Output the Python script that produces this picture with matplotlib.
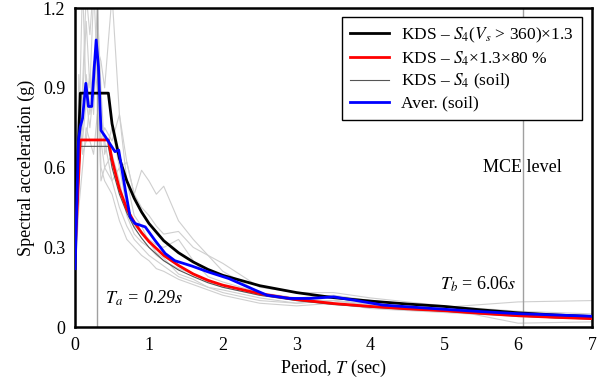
import numpy as np
from matplotlib import pyplot as plt

plt.rcParams['font.family'] = ['Liberation Serif', 'DejaVu Serif']
plt.rcParams['mathtext.fontset'] = 'stix'

# design spectra (KDS)
T_kds = [0, 0.07, 0.45, 0.5, 0.6, 0.7, 0.8, 0.9, 1.0, 1.2, 1.4, 1.6, 1.8, 2.0,
         2.5, 3.0, 3.5, 4.0, 4.5, 5.0, 5.5, 6.0, 6.5, 7.0]
sa_kds_13 = [0.35, 0.88, 0.88, 0.765, 0.635, 0.55, 0.485, 0.433, 0.39, 0.325, 0.28, 0.245,
             0.217, 0.195, 0.156, 0.13, 0.111, 0.098, 0.087, 0.078, 0.065, 0.054, 0.046, 0.04]
sa_kds_80 = [0.28, 0.704, 0.704, 0.63, 0.52, 0.445, 0.395, 0.355, 0.322, 0.27, 0.232, 0.2,
             0.176, 0.158, 0.126, 0.104, 0.089, 0.078, 0.069, 0.062, 0.052, 0.043, 0.037, 0.032]
sa_kds_soil = [0.27, 0.68, 0.68, 0.6, 0.5, 0.43, 0.375, 0.335, 0.3, 0.25, 0.215, 0.19,
               0.167, 0.15, 0.12, 0.1, 0.085, 0.075, 0.067, 0.06, 0.05, 0.042, 0.035, 0.031]

# average of the soil records
T_avg = [0, 0.045, 0.07, 0.10, 0.145, 0.18, 0.225, 0.26, 0.285, 0.316, 0.35, 0.41, 0.47,
         0.54, 0.59, 0.63, 0.68, 0.745, 0.81, 0.95, 1.08, 1.22, 1.35, 1.58, 1.8, 2.08,
         2.44, 2.6, 2.91, 3.18, 3.5, 3.81, 4.17, 4.85, 5.53, 5.98, 7.0]
sa_avg = [0.22, 0.70, 0.754, 0.785, 0.917, 0.83, 0.83, 0.98, 1.08, 0.98, 0.74, 0.716, 0.69,
          0.66, 0.666, 0.60, 0.515, 0.415, 0.39, 0.377, 0.327, 0.277, 0.25, 0.23, 0.208, 0.183,
          0.139, 0.12, 0.108, 0.108, 0.114, 0.10, 0.083, 0.07, 0.058, 0.051, 0.041]

# individual records (light grey)
T_rec = [0, 0.05, 0.1, 0.15, 0.2, 0.25, 0.3, 0.35, 0.4, 0.5, 0.6, 0.7, 0.8, 0.9, 1.0,
         1.1, 1.2, 1.4, 1.6, 1.8, 2.0, 2.5, 3.0, 3.5, 4.0, 5.0, 6.0, 7.0]
rec1 = [0.22, 0.55, 0.9, 1.25, 1.1, 1.3, 0.95, 0.8, 0.7, 0.55, 0.45, 0.38, 0.33, 0.3, 0.27,
        0.25, 0.23, 0.19, 0.17, 0.15, 0.14, 0.11, 0.09, 0.1, 0.09, 0.065, 0.05, 0.04]
rec2 = [0.2, 0.7, 1.3, 0.85, 0.75, 0.9, 1.2, 0.9, 0.65, 0.75, 0.6, 0.45, 0.38, 0.36, 0.33,
        0.31, 0.3, 0.33, 0.25, 0.19, 0.17, 0.13, 0.11, 0.12, 0.1, 0.075, 0.095, 0.1]
rec3 = [0.19, 0.45, 0.6, 0.75, 0.7, 0.65, 0.8, 0.7, 0.6, 0.55, 0.6, 0.62, 0.5, 0.59, 0.55,
        0.5, 0.53, 0.4, 0.33, 0.27, 0.21, 0.13, 0.1, 0.1, 0.085, 0.06, 0.045, 0.035]
rec4 = [0.21, 0.9, 0.85, 1.15, 0.9, 1.25, 1.3, 0.7, 0.75, 0.7, 0.8, 0.55, 0.42, 0.38, 0.32,
        0.28, 0.26, 0.2, 0.18, 0.15, 0.13, 0.1, 0.09, 0.1, 0.08, 0.06, 0.04, 0.035]
rec5 = [0.23, 0.8, 0.7, 0.85, 0.95, 0.8, 1.1, 0.6, 0.55, 0.5, 0.4, 0.33, 0.3, 0.27, 0.25,
        0.22, 0.21, 0.18, 0.16, 0.14, 0.12, 0.09, 0.08, 0.09, 0.07, 0.055, 0.04, 0.035]
rec6 = [0.2, 0.6, 0.75, 0.95, 0.8, 0.9, 1.05, 1.0, 0.9, 1.25, 0.8, 0.62, 0.5, 0.45, 0.42,
        0.38, 0.35, 0.36, 0.3, 0.27, 0.24, 0.15, 0.13, 0.13, 0.11, 0.08, 0.06, 0.05]
rec7 = [0.2, 0.95, 0.65, 0.7, 0.85, 1.0, 0.9, 0.55, 0.6, 0.65, 0.55, 0.42, 0.35, 0.32, 0.3,
        0.27, 0.25, 0.22, 0.2, 0.17, 0.15, 0.12, 0.1, 0.11, 0.1, 0.07, 0.015, 0.02]
records = [rec1, rec2, rec3, rec4, rec5, rec6, rec7]

Ta = 0.29
Tb = 6.06

fig = plt.figure(figsize=(6.01, 3.84), dpi=100)
ax = fig.add_axes([0.125, 0.148, 0.86, 0.831])

for r in records:
    ax.plot(T_rec, r, color='#cfcfcf', lw=0.8, zorder=1)

ax.axvline(Ta, color='#a0a0a0', lw=1, zorder=1.5)
ax.axvline(Tb, color='#a0a0a0', lw=1, zorder=1.5)

ax.plot(T_kds, sa_kds_13, color='black', lw=2, zorder=3,
        label=r'KDS – $S_4$($V_s$ > 360)×1.3')
ax.plot(T_kds, sa_kds_80, color='red', lw=2, zorder=4,
        label=r'KDS – $S_4$×1.3×80 %')
ax.plot(T_kds, sa_kds_soil, color='#555555', lw=0.8, zorder=2,
        label=r'KDS – $S_4$ (soil)')
ax.plot(T_avg, sa_avg, color='blue', lw=2, zorder=5, label='Aver. (soil)')

ax.text(0.41, 0.11, r'$T_a$ = 0.29$s$', fontsize=13, style='italic', va='center')
ax.text(4.94, 0.162, r'$T_b$ = 6.06$s$', fontsize=13, va='center')
ax.text(5.52, 0.6, 'MCE level', fontsize=13, va='center')

ax.set_xlim(0, 7)
ax.set_ylim(0, 1.2)
ax.set_xticks(range(8))
ax.set_yticks([0, 0.3, 0.6, 0.9, 1.2])
ax.set_yticklabels(['0', '0.3', '0.6', '0.9', '1.2'])
ax.tick_params(length=0, labelsize=13, pad=7)
ax.set_xlabel(r'Period, $T$ (sec)', fontsize=13, labelpad=3)
ax.set_ylabel('Spectral acceleration (g)', fontsize=13, labelpad=6)
for s in ax.spines.values():
    s.set_linewidth(1.8)

leg = ax.legend(loc='upper right', bbox_to_anchor=(0.981, 0.972), borderaxespad=0,
                fontsize=12.5, fancybox=False, framealpha=1, edgecolor='black',
                handlelength=2.2, handletextpad=0.7, labelspacing=0.25, borderpad=0.5)
leg.get_frame().set_linewidth(1)

plt.savefig('out.png', dpi=100)
